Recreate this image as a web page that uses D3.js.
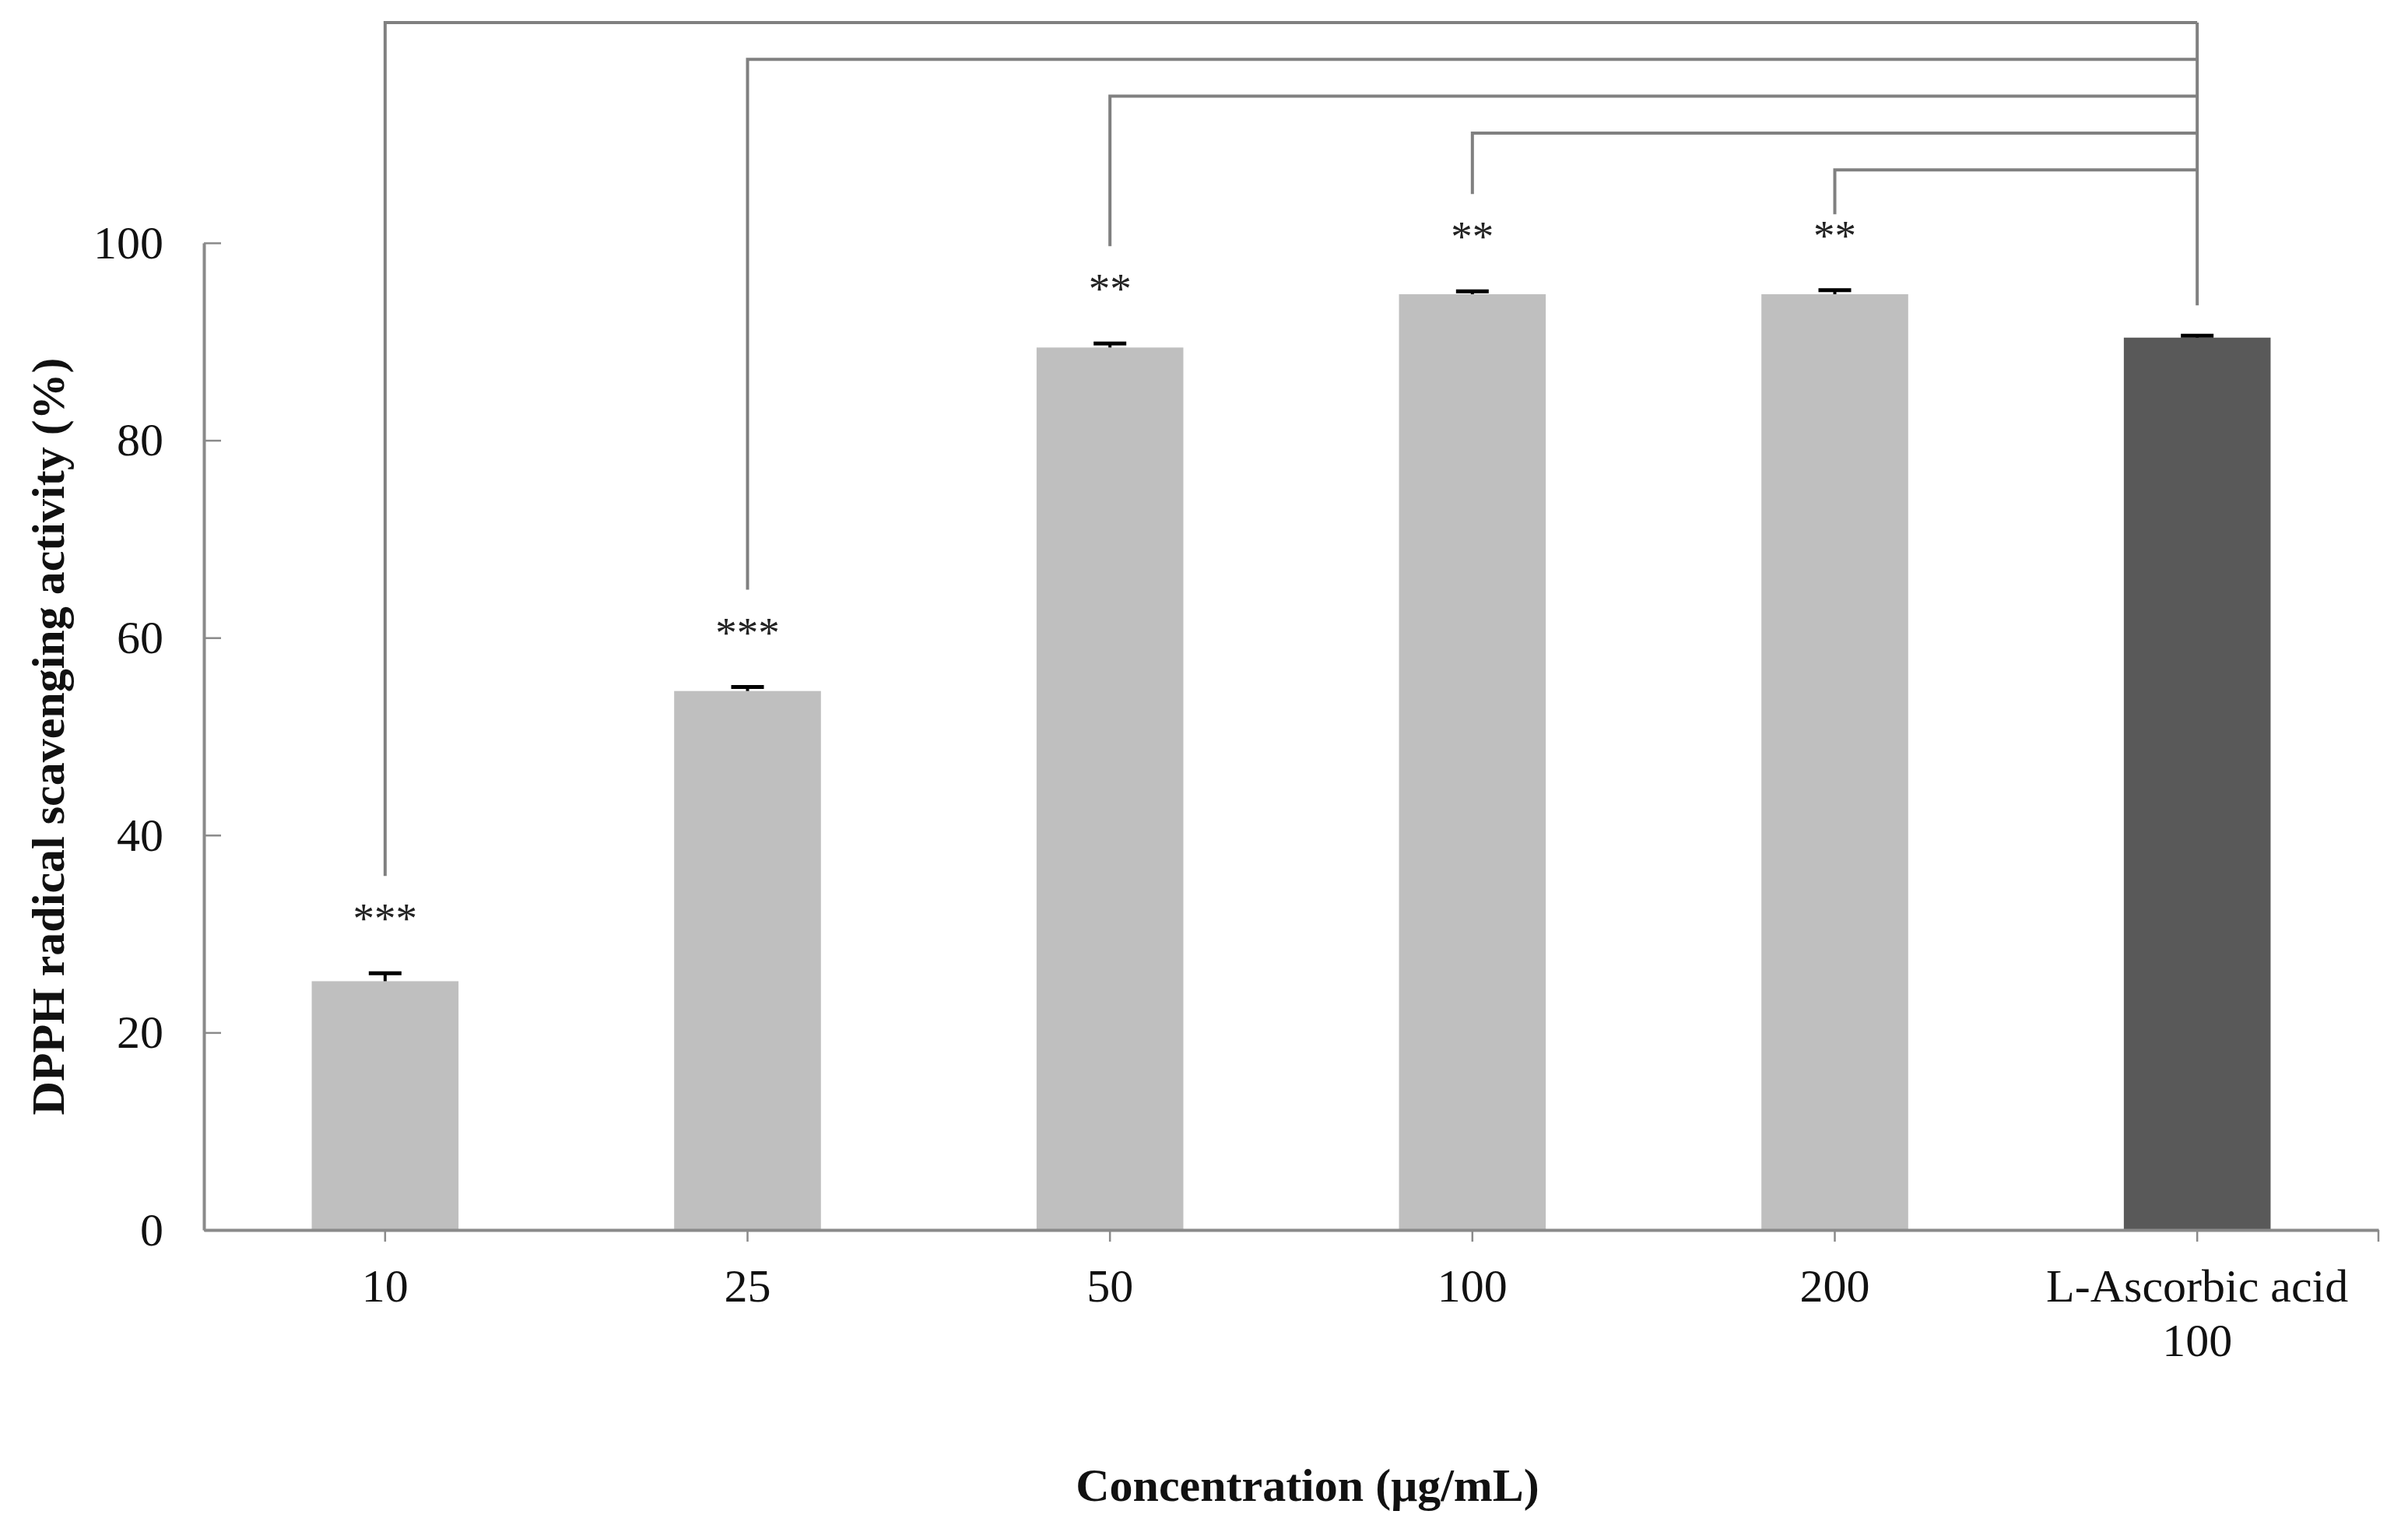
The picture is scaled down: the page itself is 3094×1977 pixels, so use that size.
<!DOCTYPE html>
<html>
<head>
<meta charset="utf-8">
<script src="https://cdn.jsdelivr.net/npm/d3@7"></script>
<style>
  html, body { margin: 0; padding: 0; background: #ffffff; }
  svg { display: block; }
  text { font-family: "Liberation Serif", "Times New Roman", serif; }
</style>
</head>
<body>
<svg id="chart" width="3094" height="1977"></svg>
<script>
// ---------- data ----------
const categories = ["10", "25", "50", "100", "200", "L-Ascorbic acid\n100"];
const values     = [25.2, 54.6, 89.4, 94.8, 94.8, 90.4];
const errors     = [0.8, 0.4, 0.4, 0.3, 0.4, 0.2];
const isControl  = [false, false, false, false, false, true];
const signif     = ["***", "***", "**", "**", "**", ""];
const yTicks     = [0, 20, 40, 60, 80, 100];
const yTitle     = "DPPH radical scavenging activity (%)";
const xTitle     = "Concentration (\u03bcg/mL)";
// comparisons: each treatment vs the control (last category), outermost first
const comparisons = ["10", "25", "50", "100", "200"];
const controlCat  = "L-Ascorbic acid\n100";

(function () {
// ---------- layout ----------
const svg = d3.select("#chart");
const mLeft = 262, mRight = 3056, mTop = 312, mBottom = 1580;
const axisColor = "#8a8a8a";

const x = d3.scaleBand().domain(categories).range([mLeft, mRight]).paddingInner(0).paddingOuter(0);
const y = d3.scaleLinear().domain([0, 100]).range([mBottom, mTop]);
const barW = x.bandwidth() * 0.405;
const cx = c => x(c) + x.bandwidth() / 2;

// bars
svg.append("g").selectAll("rect")
  .data(categories)
  .join("rect")
  .attr("x", (c) => cx(c) - barW / 2)
  .attr("y", (c, i) => y(values[i]))
  .attr("width", barW)
  .attr("height", (c, i) => y(0) - y(values[i]))
  .attr("fill", (c, i) => isControl[i] ? "#595959" : "#bfbfbf");

// error bars (upper only)
const eg = svg.append("g").attr("stroke", "#000");
categories.forEach((c, i) => {
  const xc = cx(c);
  eg.append("line")
    .attr("x1", xc).attr("x2", xc)
    .attr("y1", y(values[i])).attr("y2", y(values[i] + errors[i]))
    .attr("stroke-width", 4);
  eg.append("line")
    .attr("x1", xc - 21).attr("x2", xc + 21)
    .attr("y1", y(values[i] + errors[i])).attr("y2", y(values[i] + errors[i]))
    .attr("stroke-width", 5);
});

// y axis (inside ticks)
const yAxis = d3.axisLeft(y).tickValues(yTicks).tickSizeInner(-22).tickSizeOuter(0).tickPadding(52);
const gy = svg.append("g").attr("transform", `translate(${mLeft},0)`).call(yAxis);
gy.select(".domain").attr("stroke", axisColor).attr("stroke-width", 4);
gy.selectAll(".tick line").attr("stroke", axisColor).attr("stroke-width", 2.5);
gy.selectAll(".tick text")
  .attr("font-family", "'Liberation Serif', 'Times New Roman', serif")
  .attr("font-size", 60).attr("fill", "#111");

// x axis
const xAxis = d3.axisBottom(x).tickSizeInner(15).tickSizeOuter(0).tickPadding(34);
const gx = svg.append("g").attr("transform", `translate(0,${mBottom})`).call(xAxis);
gx.select(".domain").attr("stroke", axisColor).attr("stroke-width", 4);
gx.selectAll(".tick line").attr("stroke", axisColor).attr("stroke-width", 2.5);
gx.selectAll(".tick text")
  .attr("font-family", "'Liberation Serif', 'Times New Roman', serif")
  .attr("font-size", 60).attr("fill", "#111")
  .each(function(d) {
    const lines = d.split("\n");
    const t = d3.select(this);
    t.text(null);
    lines.forEach((ln, k) => {
      t.append("tspan").attr("x", 0).attr("dy", k === 0 ? "0.71em" : "1.18em").text(ln);
    });
  })
  .attr("dy", null);
// right end tick
gx.append("line").attr("x1", mRight).attr("x2", mRight)
  .attr("y1", 0).attr("y2", 15).attr("stroke", axisColor).attr("stroke-width", 2.5);

// axis titles
svg.append("text")
  .attr("transform", `translate(82,${(mTop + mBottom) / 2}) rotate(-90)`)
  .attr("text-anchor", "middle")
  .attr("font-size", 60).attr("font-weight", "bold").attr("fill", "#111")
  .text(yTitle);

svg.append("text")
  .attr("x", 1680).attr("y", 1928)
  .attr("text-anchor", "middle")
  .attr("font-size", 60).attr("font-weight", "bold").attr("fill", "#111")
  .text(xTitle);

// significance stars
categories.forEach((c, i) => {
  if (!signif[i]) return;
  const capY = y(values[i] + errors[i]);
  svg.append("text")
    .attr("x", cx(c)).attr("y", capY - 78 + 26)
    .attr("text-anchor", "middle")
    .attr("font-size", 55).attr("fill", "#222")
    .text(signif[i]);
});

// comparison brackets
const bg = svg.append("g").attr("stroke", "#808080").attr("stroke-width", 4).attr("fill", "none");
const topLevel = 29, step = 47.3;
const ctrlIdx = categories.indexOf(controlCat);
const ctrlX = cx(controlCat);
comparisons.forEach((c, k) => {
  const i = categories.indexOf(c);
  const level = topLevel + k * step;
  const capY = y(values[i] + errors[i]);
  const dropEnd = Math.max(capY - 125, level + 57);
  bg.append("path")
    .attr("d", `M${cx(c)},${dropEnd} V${level} H${ctrlX}`);
});
// control drop
bg.append("path")
  .attr("d", `M${ctrlX},${topLevel} V${y(values[ctrlIdx] + errors[ctrlIdx]) - 39}`);
})();
</script>
</body>
</html>
